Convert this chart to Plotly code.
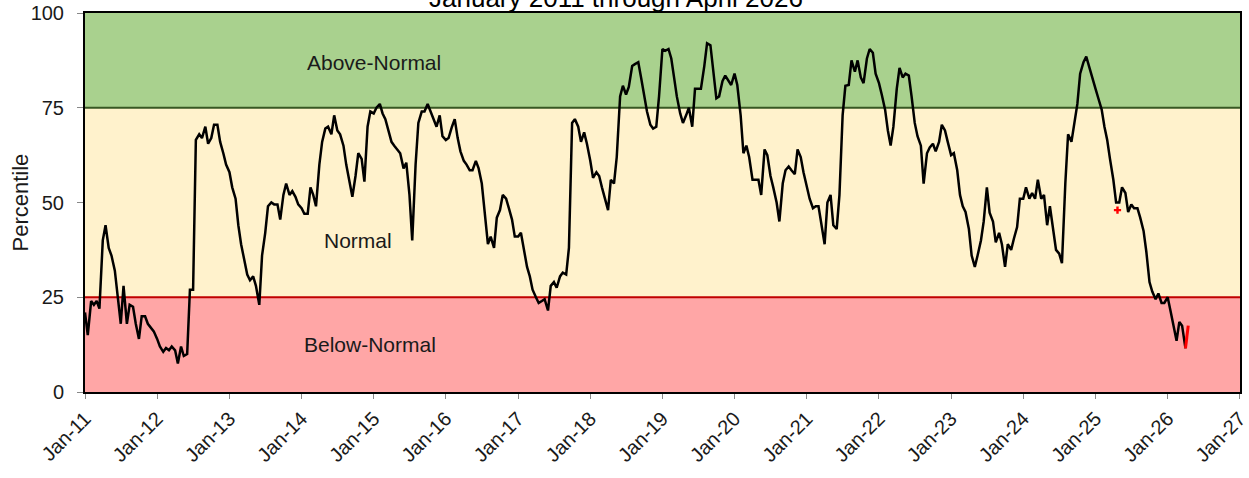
import plotly.graph_objects as go
import pandas as pd

# semi-monthly percentile values, Jan 2011 -> Apr 2026
percentile = [
    21, 15, 24, 23, 24, 22, 40, 44, 38, 36, 32, 26, 18, 28, 18, 23, 22.5, 18, 14, 20, 20, 18, 17, 16,  # 2011
    14, 12, 10.6, 11.6, 11, 12, 11, 7.5, 12, 9.5, 10, 27, 27, 66.5, 68, 67, 70, 65.5, 67, 70.5, 70.5, 66, 63, 60,  # 2012
    58, 54, 51, 44, 39, 35, 31, 29.5, 30.5, 28, 23, 36, 42, 49, 50, 49.5, 49.5, 45.5, 52, 55, 52, 53, 51.5, 49.5,  # 2013
    48.5, 47, 47, 54, 52, 49, 60, 66, 69.5, 70, 68, 73, 69, 68, 65, 60, 55, 51.5, 57, 63, 61.5, 55.5, 70, 74,  # 2014
    73.5, 75, 76, 73.5, 72, 69.5, 66, 65, 64, 63, 59, 60.5, 52, 40, 60, 71, 74, 74, 76, 74, 72, 70, 73, 67.5,  # 2015
    66.5, 67, 70, 72, 67, 63.5, 61, 60, 58.5, 58.5, 61, 59, 55, 48, 39, 41, 38, 46, 48, 52, 51, 48.5, 45.5, 41,  # 2016
    41, 42, 37, 33, 30.5, 27, 25, 23.5, 24, 24.5, 21.5, 28, 29, 27.5, 30.5, 31.5, 31, 38, 71, 72, 70, 66, 68.5, 65.5,  # 2017
    61, 56.5, 58, 57, 54, 51, 48, 56, 55, 62, 78, 80.8, 78.5, 80.5, 86, 86.5, 87, 83, 78, 74, 70.5, 69.5, 70, 78,  # 2018
    90.5, 90, 90.5, 88, 83, 78, 73.5, 71, 73, 75, 70, 80, 80, 80, 86, 92, 91.5, 85, 77.5, 78, 82, 83.5, 82, 81,  # 2019
    84, 81, 73, 63, 65, 62, 56, 56, 56, 52, 64, 62.5, 57, 54, 50, 45, 55, 58.5, 59.5, 58.5, 57.5, 64, 62, 58,  # 2020
    54, 51, 48.5, 49, 49, 44.5, 39, 50, 52, 44, 43, 52, 73, 80.8, 81, 87.5, 84.5, 87.5, 83, 81.5, 88, 90.5, 89.5, 84,  # 2021
    81.5, 78.5, 74.5, 69, 65, 70, 80, 85.5, 83, 84, 83.5, 78, 71, 67.5, 65, 55, 63, 64.5, 65.5, 63.5, 66, 70.5, 69, 66,  # 2022
    62.5, 63, 58.5, 52, 49, 47.5, 43, 36, 33, 36, 40, 45, 54, 47.3, 45, 39.5, 42, 39, 33, 39, 37.5, 40.5, 43.5, 51,  # 2023
    51, 54, 51, 52.5, 51, 56, 51, 52, 44, 49, 42, 37.5, 36.5, 34, 55, 68, 66, 71, 76, 84, 87, 88.5, 85.5, 82.5,  # 2024
    80, 77.5, 74.5, 70, 66.5, 61.5, 56, 50, 50, 54, 52.5, 47.5, 49.5, 48.5, 48.5, 46, 42.5, 37, 29, 26.5, 24.5, 26, 23.5, 23.5,  # 2025
    25, 21.5, 17, 13.5, 18.5, 17.5, 11.5,  # 2026
]
dates = pd.date_range("2011-01-01", periods=len(percentile), freq="SMS")

# provisional (red) values at the end and the red point in spring 2025
recent_dates = ["2026-04-01", "2026-04-15"]
recent_vals = [11.5, 17.5]
mark_dates = ["2025-04-22"]
mark_vals = [48]

year_ticks = pd.date_range("2011-01-01", "2027-01-01", freq="YS")

font = "Arial, Liberation Sans, sans-serif"

fig = go.Figure()
fig.add_trace(go.Scatter(x=dates, y=percentile, mode="lines",
                         line=dict(color="black", width=2.5), showlegend=False))
fig.add_trace(go.Scatter(x=recent_dates, y=recent_vals, mode="lines",
                         line=dict(color="#ff0000", width=3), showlegend=False))
fig.add_trace(go.Scatter(x=mark_dates, y=mark_vals, mode="markers",
                         marker=dict(color="#ff0000", size=6, symbol="cross"), showlegend=False))

# coloured bands
bands = [(75, 100, "#a9d18e"), (25, 75, "#fff2cc"), (0, 25, "#ffa6a6")]
for y0, y1, c in bands:
    fig.add_shape(type="rect", xref="paper", yref="y", x0=0, x1=1, y0=y0, y1=y1,
                  fillcolor=c, line_width=0, layer="below")
fig.add_shape(type="line", xref="paper", yref="y", x0=0, x1=1, y0=75, y1=75,
              line=dict(color="#385723", width=2), layer="below")
fig.add_shape(type="line", xref="paper", yref="y", x0=0, x1=1, y0=25, y1=25,
              line=dict(color="#c00000", width=2), layer="below")

for txt, xd, yv in [("Above-Normal", "2015-01-01", 87), ("Normal", "2014-10-15", 40),
                    ("Below-Normal", "2014-12-15", 12.5)]:
    fig.add_annotation(x=xd, y=yv, text=txt, showarrow=False,
                       font=dict(family=font, size=21, color="#1a1a1a"))

# title, mostly cut off by the top of the page as in the original
fig.add_annotation(text="January 2011 through April 2026", xref="paper", yref="paper",
                   x=0.46, y=1, xanchor="center", yanchor="bottom", yshift=-2,
                   showarrow=False, font=dict(family=font, size=26, color="black"))

fig.add_annotation(text="Percentile", xref="paper", yref="paper", x=0, y=0.5,
                   xanchor="center", yanchor="middle", xshift=-65, textangle=-90,
                   showarrow=False, font=dict(family=font, size=22, color="#1a1a1a"))

fig.update_layout(
    width=1249, height=478,
    margin=dict(l=85, r=9, t=13, b=86),
    paper_bgcolor="white", plot_bgcolor="white",
    font=dict(family=font, color="#1a1a1a"),
    xaxis=dict(range=["2011-01-01", "2027-01-02"], tickmode="array", tickvals=year_ticks,
               tickformat="%b-%y", tickangle=-45, tickfont=dict(size=20),
               ticklabeloverflow="allow",
               showgrid=False, zeroline=False, showline=True, linecolor="black",
               linewidth=2, mirror=True, ticks="outside", ticklen=5, tickcolor="#888",
               automargin=False),
    yaxis=dict(range=[0, 100], tickvals=[0, 25, 50, 75, 100], tickfont=dict(size=20),
               showgrid=False, zeroline=False, showline=True, linecolor="black",
               linewidth=2, mirror=True, ticks="outside", ticklen=6, tickcolor="#888",
               ticklabelstandoff=9, automargin=False),
)

# drop the browser's default page margin so the figure sits at the top-left corner
fig.write_html("out.html", config={"displayModeBar": False},
               post_script="document.body.style.margin = '0';")
